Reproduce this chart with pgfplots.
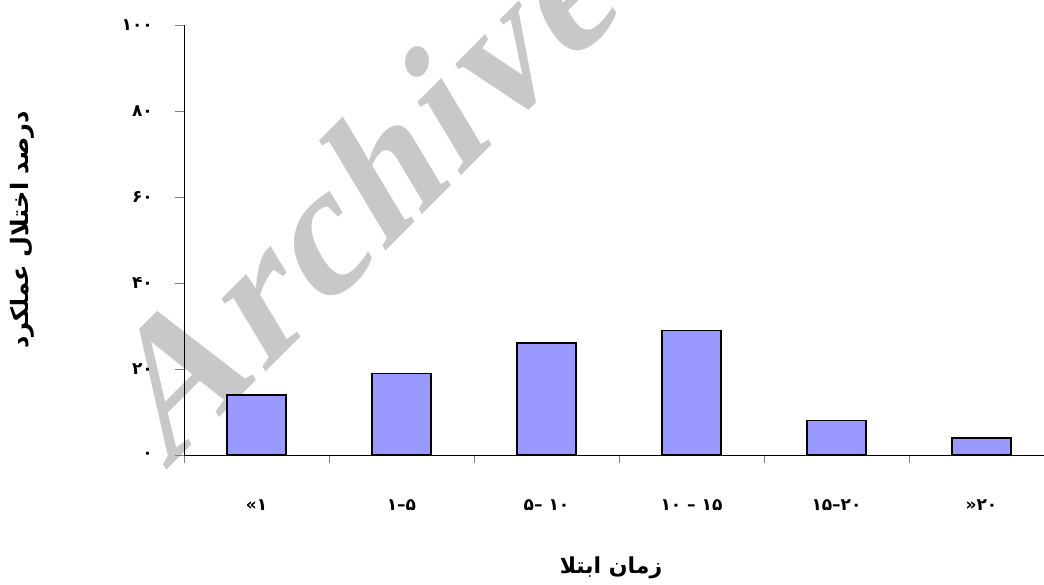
\documentclass[border=0pt]{standalone}
\usepackage{pgfplots}
\pgfplotsset{compat=1.18}
\usepackage{fontspec}
\TeXXeTstate=1
\newfontfamily\fa[Script=Arabic]{DejaVu Sans}
\newfontfamily\fadig{DejaVu Sans}
\newfontfamily\wm{Liberation Serif}[UprightFont={* Bold}, FakeSlant=0.25, LetterSpace=4]
\definecolor{barblue}{RGB}{153,153,255}
\definecolor{wmgray}{RGB}{200,200,200}
\begin{document}
\begin{tikzpicture}[x=1pt,y=1pt]
\useasboundingbox (0,0) rectangle (1044,584);
\begin{scope}
\clip (0,0) rectangle (1044,584);
\node[rotate=45, anchor=base west, inner sep=0pt, text=wmgray,
  font=\wm\fontsize{180}{180}\selectfont] at (165,112) {Archive};
\end{scope}
\begin{axis}[
  at={(184pt,129pt)}, anchor=south west,
  scale only axis, width=870pt, height=430pt,
  xmin=-0.5, xmax=5.5, ymin=0, ymax=100,
  axis x line*=bottom, axis y line*=left,
  axis line style={black, line width=1pt, -},
  ybar, bar width=59pt,
  ytick={0,20,40,60,80,100},
  yticklabels={۰,۲۰,۴۰,۶۰,۸۰,۱۰۰},
  xtick={0,1,2,3,4,5},
  xticklabels={«۱,۱–۵,۵– ۱۰,۱۰ – ۱۵,۱۵–۲۰,»۲۰},
  minor xtick={-0.5,0.5,1.5,2.5,3.5,4.5,5.5},
  tick align=outside,
  major tick length=9pt, minor tick length=8pt,
  major x tick style={draw=none},
  minor x tick style={draw=gray, line width=0.8pt},
  y tick style={draw=gray, line width=0.8pt},
  yticklabel style={anchor=east, inner sep=0pt, xshift=-22pt,
    font=\fadig\bfseries\fontsize{17}{17}\selectfont},
  xticklabel style={anchor=base, inner sep=0pt, yshift=-46pt,
    font=\fadig\bfseries\fontsize{17}{17}\selectfont},
]
\addplot[fill=barblue, draw=black, line width=1.5pt]
  coordinates {(0,14) (1,19) (2,26) (3,29) (4,8) (5,4)};
\end{axis}
\node[font=\fa\bfseries\fontsize{22}{22}\selectfont] at (611,16) {\beginR زمان ابتلا\endR};
\node[rotate=90, font=\fa\bfseries\fontsize{24}{24}\selectfont] at (22,354) {\beginR درصد اختلال عملکرد\endR};
\end{tikzpicture}
\end{document}
